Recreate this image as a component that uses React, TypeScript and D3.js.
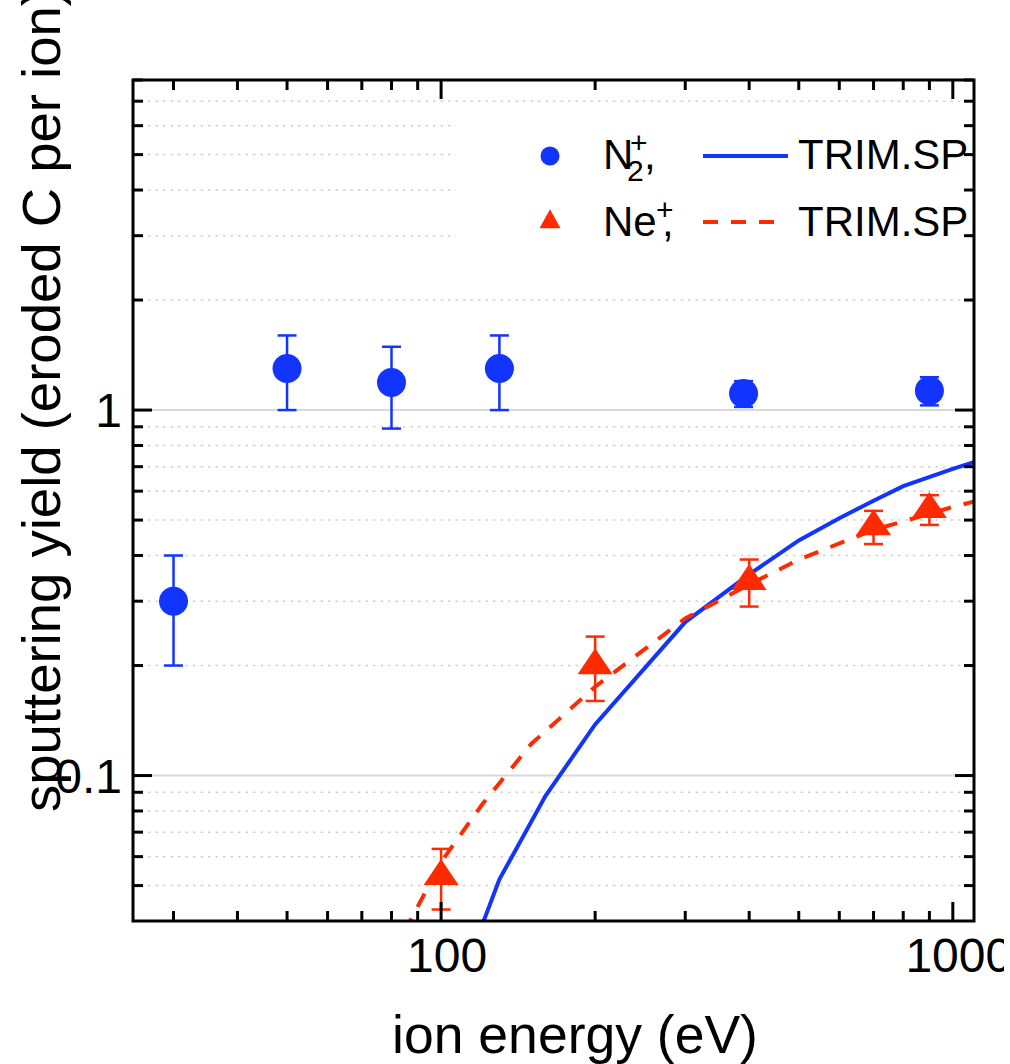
import React from "react";
import * as d3 from "d3";

// ---- data ----
const n2Energy = [30, 50, 80, 130, 390, 900];
const n2Yield = [0.3, 1.3, 1.19, 1.3, 1.11, 1.13];
const n2Err = [0.1, 0.3, 0.3, 0.3, 0.09, 0.1];

const neEnergy = [100, 200, 400, 700, 900];
const neYield = [0.053, 0.2, 0.34, 0.48, 0.535];
const neErr = [0.01, 0.04, 0.05, 0.05, 0.05];

const trimN2Energy = [115, 130, 160, 200, 300, 400, 500, 600, 700, 800, 1000, 1200];
const trimN2Yield = [0.033, 0.052, 0.088, 0.138, 0.263, 0.355, 0.44, 0.506, 0.565, 0.619, 0.69, 0.75];

const trimNeEnergy = [80, 100, 120, 150, 200, 300, 400, 500, 700, 1000, 1200];
const trimNeYield = [0.032, 0.058, 0.083, 0.122, 0.175, 0.269, 0.333, 0.39, 0.47, 0.543, 0.58];

const xMajorTicks = [100, 1000];
const xMinorTicks = [30, 40, 50, 60, 70, 80, 90, 200, 300, 400, 500, 600, 700, 800, 900];
const yMajorTicks = [0.1, 1];
const yMinorTicks = [0.05, 0.06, 0.07, 0.08, 0.09, 0.2, 0.3, 0.4, 0.5, 0.6, 0.7, 0.8, 0.9, 2, 3, 4, 5, 6, 7, 8];
const xTickLabels = ["100", "1000"];
const yTickLabels = ["0.1", "1"];

const BLUE = "#1234ff";
const RED = "#ff2a00";
const FONT = "'Liberation Sans', Arial, Helvetica, sans-serif";

export default function App() {
  const W = 1010, H = 1064;
  const L = 133, R = 974, T = 80, B = 921;
  const x = d3.scaleLog().domain([25, 1100]).range([L, R]);
  const y = d3.scaleLog().domain([0.04, 8]).range([B, T]);

  const lineGen = d3
    .line<[number, number]>()
    .x((d) => x(d[0]))
    .y((d) => y(d[1]));

  const n2Line = lineGen(trimN2Energy.map((e, i) => [e, trimN2Yield[i]]));
  const neLine = lineGen(trimNeEnergy.map((e, i) => [e, trimNeYield[i]]));

  const triPath = (w: number, h: number) =>
    `M0,${-(2 * h) / 3}L${w / 2},${h / 3}L${-w / 2},${h / 3}Z`;

  const gridMinor = yMinorTicks.filter((v) => v < 8);

  return (
    <div style={{ position: "absolute", left: 0, top: 0 }}>
      <svg width={W} height={H} style={{ display: "block", background: "#fff" }} fontFamily={FONT}>
        <defs>
          <clipPath id="plot">
            <rect x={L} y={T} width={R - L} height={B - T} />
          </clipPath>
          <clipPath id="page">
            <rect x={0} y={0} width={1004} height={H} />
          </clipPath>
        </defs>
        <rect x={0} y={0} width={W} height={H} fill="#fff" />
        <g clipPath="url(#page)">
          {/* grid */}
          {gridMinor.map((v) => (
            <line key={"gm" + v} x1={L} x2={R} y1={y(v)} y2={y(v)} stroke="#cfcfcf" strokeWidth={1.5} strokeDasharray="2.5,5" />
          ))}
          {yMajorTicks.map((v) => (
            <line key={"gM" + v} x1={L} x2={R} y1={y(v)} y2={y(v)} stroke="#d9d9d9" strokeWidth={2} />
          ))}
          {/* legend background */}
          <rect x={456} y={110} width={R - 456 - 2} height={148} fill="#fff" />

          {/* curves */}
          <g clipPath="url(#plot)">
            <path d={n2Line || ""} fill="none" stroke={BLUE} strokeWidth={4} />
            <path d={neLine || ""} fill="none" stroke={RED} strokeWidth={4} strokeDasharray="15,13" />
          </g>

          {/* N2 error bars + markers */}
          {n2Energy.map((e, i) => {
            const cx = x(e);
            const y1 = y(n2Yield[i] + n2Err[i]);
            const y2 = y(n2Yield[i] - n2Err[i]);
            return (
              <g key={"n2" + i}>
                <line x1={cx} x2={cx} y1={y1} y2={y2} stroke={BLUE} strokeWidth={2.5} />
                <line x1={cx - 9.5} x2={cx + 9.5} y1={y1} y2={y1} stroke={BLUE} strokeWidth={2.5} />
                <line x1={cx - 9.5} x2={cx + 9.5} y1={y2} y2={y2} stroke={BLUE} strokeWidth={2.5} />
                <circle cx={cx} cy={y(n2Yield[i])} r={14.5} fill={BLUE} />
              </g>
            );
          })}
          {neEnergy.map((e, i) => {
            const cx = x(e);
            const y1 = y(neYield[i] + neErr[i]);
            const y2 = y(neYield[i] - neErr[i]);
            return (
              <g key={"ne" + i}>
                <line x1={cx} x2={cx} y1={y1} y2={y2} stroke={RED} strokeWidth={2.5} />
                <line x1={cx - 9.5} x2={cx + 9.5} y1={y1} y2={y1} stroke={RED} strokeWidth={2.5} />
                <line x1={cx - 9.5} x2={cx + 9.5} y1={y2} y2={y2} stroke={RED} strokeWidth={2.5} />
                <path d={triPath(35, 26)} transform={`translate(${cx},${y(neYield[i])})`} fill={RED} />
              </g>
            );
          })}

          {/* axes frame */}
          <rect x={L} y={T} width={R - L} height={B - T} fill="none" stroke="#000" strokeWidth={3} />
          {/* x ticks bottom & top */}
          {xMajorTicks.map((v) => (
            <g key={"xM" + v}>
              <line x1={x(v)} x2={x(v)} y1={B} y2={B - 19} stroke="#000" strokeWidth={3} />
              <line x1={x(v)} x2={x(v)} y1={T} y2={T + 19} stroke="#000" strokeWidth={3} />
            </g>
          ))}
          {xMinorTicks.map((v) => (
            <g key={"xm" + v}>
              <line x1={x(v)} x2={x(v)} y1={B} y2={B - 10} stroke="#000" strokeWidth={3} />
              <line x1={x(v)} x2={x(v)} y1={T} y2={T + 10} stroke="#000" strokeWidth={3} />
            </g>
          ))}
          {yMajorTicks.map((v) => (
            <g key={"yM" + v}>
              <line x1={L} x2={L + 19} y1={y(v)} y2={y(v)} stroke="#000" strokeWidth={3} />
              <line x1={R} x2={R - 19} y1={y(v)} y2={y(v)} stroke="#000" strokeWidth={3} />
            </g>
          ))}
          {yMinorTicks.map((v) => (
            <g key={"ym" + v}>
              <line x1={L} x2={L + 10} y1={y(v)} y2={y(v)} stroke="#000" strokeWidth={3} />
              <line x1={R} x2={R - 10} y1={y(v)} y2={y(v)} stroke="#000" strokeWidth={3} />
            </g>
          ))}

          {/* tick labels */}
          {xMajorTicks.map((v, i) => (
            <text key={"xl" + v} x={x(v) + 6} y={972} fontSize={48} textAnchor="middle" fill="#000">
              {xTickLabels[i]}
            </text>
          ))}
          {yMajorTicks.map((v, i) => (
            <text key={"yl" + v} x={122} y={y(v) + 17} fontSize={48} textAnchor="end" fill="#000">
              {yTickLabels[i]}
            </text>
          ))}

          {/* axis titles */}
          <text x={575} y={1053} fontSize={53.5} textAnchor="middle" fill="#000">
            ion energy (eV)
          </text>
          <text transform="translate(60,812) rotate(-90)" fontSize={54.5} textAnchor="start" fill="#000">
            sputtering yield (eroded C per ion)
          </text>

          {/* legend */}
          <circle cx={550} cy={156} r={9.5} fill={BLUE} />
          <text x={603} y={169} fontSize={42} fill="#000">
            N
            <tspan x={630} y={153} fontSize={30}>+</tspan>
            <tspan x={627} y={181} fontSize={30}>2</tspan>
            <tspan x={644} y={169}>,</tspan>
          </text>
          <line x1={703} x2={788} y1={156} y2={156} stroke={BLUE} strokeWidth={4} />
          <text x={798} y={169} fontSize={42} fill="#000">TRIM.SP</text>

          <path d={triPath(21, 19)} transform="translate(550,222)" fill={RED} />
          <text x={603} y={236} fontSize={42} fill="#000">
            Ne
            <tspan x={656} y={220} fontSize={30}>+</tspan>
            <tspan x={662} y={236}>,</tspan>
          </text>
          <line x1={703} x2={778} y1={222} y2={222} stroke={RED} strokeWidth={4} strokeDasharray="15,13" />
          <text x={798} y={236} fontSize={42} fill="#000">TRIM.SP</text>
        </g>
      </svg>
    </div>
  );
}
